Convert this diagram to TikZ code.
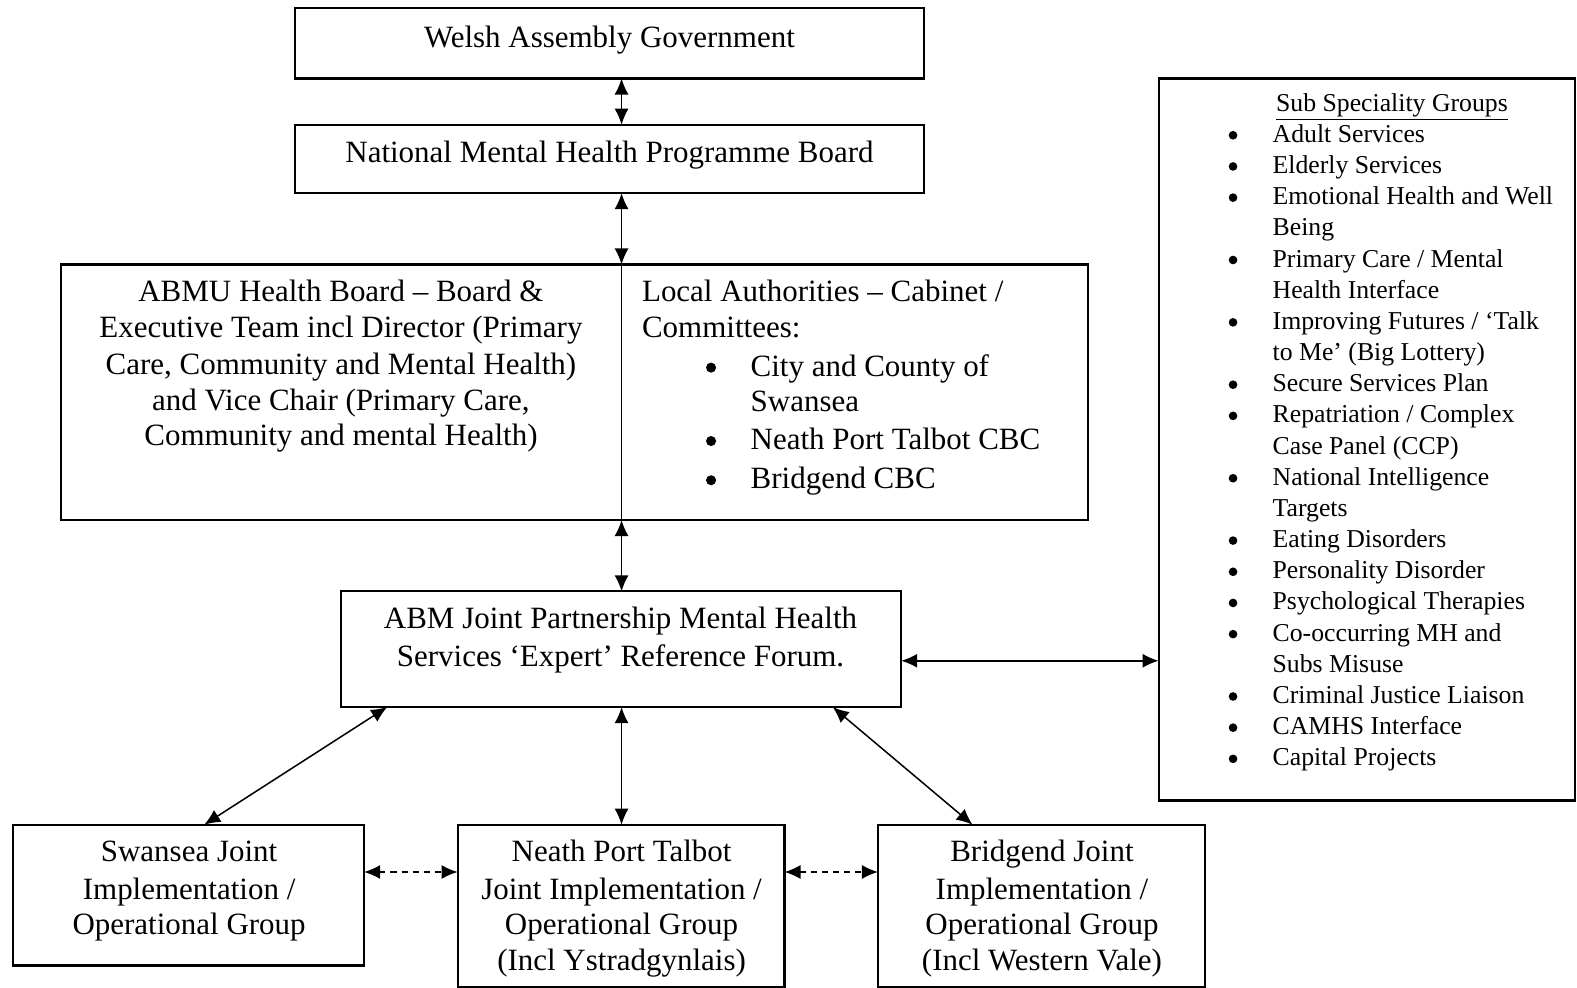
\documentclass[tikz,border=0pt]{standalone}
\usepackage{fontspec}
\setmainfont{Liberation Serif}
\usetikzlibrary{arrows.meta,calc}
\begin{document}
\begin{tikzpicture}[x=0.5pt,y=-0.5pt,
 box/.style={draw,line width=1.1pt,inner sep=0pt,outer sep=0pt},
 bt/.style={font=\fontsize{15.4pt}{18pt}\selectfont,inner sep=0pt,anchor=base},
 btl/.style={bt,anchor=base west},
 st/.style={font=\fontsize{12.8pt}{15.5pt}\selectfont,inner sep=0pt,anchor=base west},
 bbul/.style={circle,fill,inner sep=0pt,minimum size=5pt},
 sbul/.style={circle,fill,inner sep=0pt,minimum size=4.3pt},
 link/.style={line width=0.75pt,{Latex[length=8pt,width=7pt]}-{Latex[length=8pt,width=7pt]}},
 dlink/.style={link,dash pattern=on 3pt off 2.5pt}]
\useasboundingbox (0,0) rectangle (1568,982);
% boxes
\node[box,minimum width=313pt,minimum height=35pt] (wag) at (606,43) {};
\node[box,minimum width=313pt,minimum height=34pt] (nm) at (606,158) {};
\node[box,minimum width=510.5pt,minimum height=127pt] (big) at (571.5,390) {};
\node[box,minimum width=278.5pt,minimum height=57.5pt] (forum) at (617.5,645.5) {};
\node[box,minimum width=207pt,minimum height=359pt] (sub) at (1359,437) {};
\node[box,minimum width=174.5pt,minimum height=70pt] (swa) at (187.5,890) {};
\node[box,minimum width=162.5pt,minimum height=80.5pt] (npt) at (617.5,900.5) {};
\node[box,minimum width=162.5pt,minimum height=80.5pt] (bri) at (1035.5,900.5) {};
\coordinate (ax) at (618,0);
\coordinate (ay) at (0,657);
\coordinate (dy) at (0,867);
% texts
\node[bt] (t1) at (606,47) {Welsh Assembly Government};
\node[bt] (t2) at (606,162) {National Mental Health Programme Board};
\node[bt] (b1) at (339,300) {ABMU Health Board – Board \&};
\node[bt] (b2) at (339,336) {Executive Team incl Director (Primary};
\node[bt] (b3) at (339,372) {Care, Community and Mental Health)};
\node[bt] (b4) at (339,408) {and Vice Chair (Primary Care,};
\node[bt] (b5) at (339,443) {Community and mental Health)};
\node[btl] (l1) at (638,300) {Local Authorities – Cabinet /};
\node[btl] (l2) at (638,336) {Committees:};
\node[bbul] (lb1) at (707,365.5) {};
\node[btl] (l3) at (746,374) {City and County of};
\node[btl] (l4) at (746,409) {Swansea};
\node[bbul] (lb2) at (707,438.5) {};
\node[btl] (l5) at (746,447) {Neath Port Talbot CBC};
\node[bbul] (lb3) at (707,477.5) {};
\node[btl] (l6) at (746,486) {Bridgend CBC};
\node[bt] (f1) at (617,625) {ABM Joint Partnership Mental Health};
\node[bt] (f2) at (617,663) {Services ‘Expert’ Reference Forum.};
\node[bt] (w1) at (188,857) {Swansea Joint};
\node[bt] (w2) at (188,894) {Implementation /};
\node[bt] (w3) at (188,929) {Operational Group};
\node[bt] (n1) at (618,857) {Neath Port Talbot};
\node[bt] (n2) at (618,894) {Joint Implementation /};
\node[bt] (n3) at (618,929) {Operational Group};
\node[bt] (n4) at (618,965) {(Incl Ystradgynlais)};
\node[bt] (r1) at (1036,857) {Bridgend Joint};
\node[bt] (r2) at (1036,894) {Implementation /};
\node[bt] (r3) at (1036,929) {Operational Group};
\node[bt] (r4) at (1036,965) {(Incl Western Vale)};
% sub speciality list
\node[st,anchor=base] (sg) at (1384,110.5) {\underline{Sub Speciality Groups}};
\node[sbul] (g0b) at (1226,134.5) {}; \node[st] (g0) at (1265,141.5) {Adult Services};
\node[sbul] (g1b) at (1226,165.5) {}; \node[st] (g1) at (1265,172.5) {Elderly Services};
\node[sbul] (g2b) at (1226,196.5) {}; \node[st] (g2) at (1265,203.5) {Emotional Health and Well};
\node[st] (g3) at (1265,234.5) {Being};
\node[sbul] (g4b) at (1226,258.5) {}; \node[st] (g4) at (1265,265.5) {Primary Care / Mental};
\node[st] (g5) at (1265,296.5) {Health Interface};
\node[sbul] (g6b) at (1226,320.5) {}; \node[st] (g6) at (1265,327.5) {Improving Futures / ‘Talk};
\node[st] (g7) at (1265,358.5) {to Me’ (Big Lottery)};
\node[sbul] (g8b) at (1226,382.5) {}; \node[st] (g8) at (1265,389.5) {Secure Services Plan};
\node[sbul] (g9b) at (1226,413.5) {}; \node[st] (g9) at (1265,420.5) {Repatriation / Complex};
\node[st] (g10) at (1265,451.5) {Case Panel (CCP)};
\node[sbul] (g11b) at (1226,475.5) {}; \node[st] (g11) at (1265,482.5) {National Intelligence};
\node[st] (g12) at (1265,513.5) {Targets};
\node[sbul] (g13b) at (1226,537.5) {}; \node[st] (g13) at (1265,544.5) {Eating Disorders};
\node[sbul] (g14b) at (1226,568.5) {}; \node[st] (g14) at (1265,575.5) {Personality Disorder};
\node[sbul] (g15b) at (1226,599.5) {}; \node[st] (g15) at (1265,606.5) {Psychological Therapies};
\node[sbul] (g16b) at (1226,630.5) {}; \node[st] (g16) at (1265,637.5) {Co-occurring MH and};
\node[st] (g17) at (1265,668.5) {Subs Misuse};
\node[sbul] (g18b) at (1226,692.5) {}; \node[st] (g18) at (1265,699.5) {Criminal Justice Liaison};
\node[sbul] (g19b) at (1226,723.5) {}; \node[st] (g19) at (1265,730.5) {CAMHS Interface};
\node[sbul] (g20b) at (1226,754.5) {}; \node[st] (g20) at (1265,761.5) {Capital Projects};
% connectors
\draw[link] (wag.south -| ax) -- (nm.north -| ax);
\draw[link] (nm.south -| ax) -- (big.north -| ax);
\draw[line width=0.75pt] (big.north -| ax) -- (big.south -| ax);
\draw[link] (big.south -| ax) -- (forum.north -| ax);
\draw[link] (forum.east |- ay) -- (sub.west |- ay);
\draw[link] (forum.south -| ax) -- (npt.north -| ax);
\draw[link] ($(forum.south west)+(46,0)$) -- ($(swa.north)+(15.5,0)$);
\draw[link] ($(forum.south east)+(-68,0)$) -- ($(bri.north)+(-68.5,0)$);
\draw[dlink] (swa.east |- dy) -- (npt.west |- dy);
\draw[dlink] (npt.east |- dy) -- (bri.west |- dy);
\end{tikzpicture}
\end{document}
